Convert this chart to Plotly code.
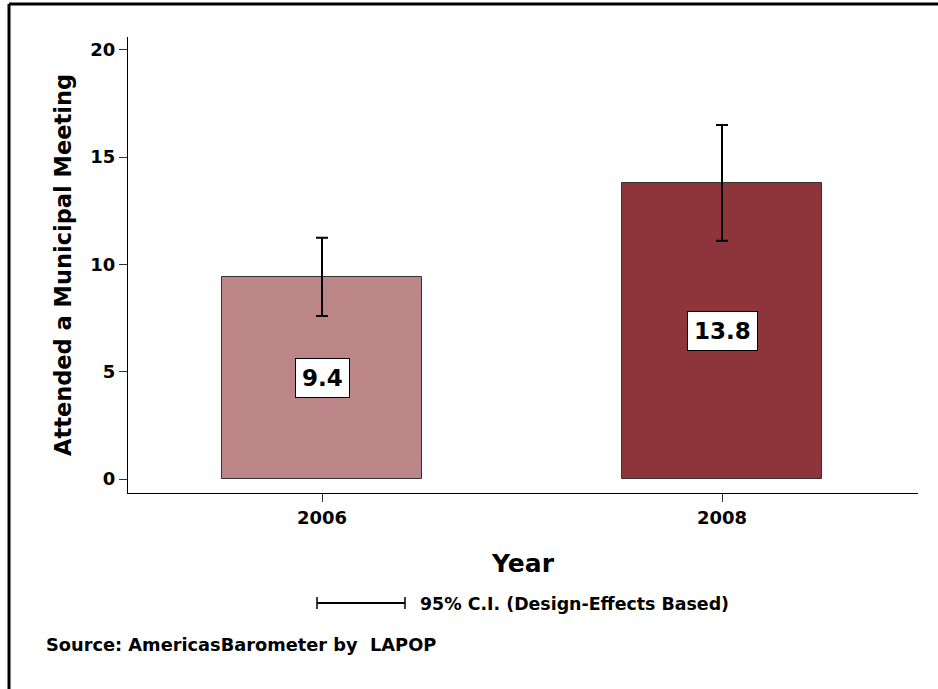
import plotly.graph_objects as go

years = ["2006", "2008"]
values = [9.4, 13.8]
ci_upper = [11.25, 16.5]
ci_lower = [7.6, 11.1]
bar_colors = ["#BC8587", "#8E353C"]

FONT = "DejaVu Sans, sans-serif"

err_plus = [u - v for u, v in zip(ci_upper, values)]
err_minus = [v - l for v, l in zip(values, ci_lower)]

fig = go.Figure()
fig.add_trace(go.Bar(
    x=years,
    y=values,
    width=0.5,
    marker=dict(color=bar_colors, line=dict(color="#333333", width=1)),
    error_y=dict(type="data", array=err_plus, arrayminus=err_minus,
                 color="black", thickness=2, width=6),
    hoverinfo="x+y",
    showlegend=False,
))

# value labels in white boxes, halfway up each bar (x as category index)
for i, v in enumerate(values):
    fig.add_annotation(
        x=i, y=v / 2, text=f"<b>{v}</b>", showarrow=False,
        font=dict(family=FONT, size=23, color="black"),
        bgcolor="white", bordercolor="black", borderwidth=1, borderpad=6,
    )

# CI legend
fig.add_shape(type="line", xref="paper", yref="paper",
              x0=(317 - 128) / 790, x1=(405 - 128) / 790,
              y0=(493 - 603) / 456, y1=(493 - 603) / 456,
              line=dict(color="black", width=2))
for px_ in (317, 405):
    fig.add_shape(type="line", xref="paper", yref="paper",
                  x0=(px_ - 128) / 790, x1=(px_ - 128) / 790,
                  y0=(493 - 597) / 456, y1=(493 - 609) / 456,
                  line=dict(color="black", width=1.5))
fig.add_annotation(
    xref="paper", yref="paper", x=(418 - 128) / 790, y=(493 - 604) / 456,
    xanchor="left", yanchor="middle", showarrow=False,
    text="<b>95% C.I. (Design-Effects Based)</b>",
    font=dict(family=FONT, size=17.4, color="black"),
)
fig.add_annotation(
    xref="paper", yref="paper", x=(44 - 128) / 790, y=(493 - 644) / 456,
    xanchor="left", yanchor="middle", showarrow=False,
    text="<b>Source: AmericasBarometer by  LAPOP</b>",
    font=dict(family=FONT, size=17.8, color="black"),
)

# outer frame (top and left edges)
fig.add_shape(type="line", xref="paper", yref="paper",
              x0=(9 - 128) / 790, x1=(940 - 128) / 790,
              y0=(493 - 4) / 456, y1=(493 - 4) / 456,
              line=dict(color="black", width=3))
fig.add_shape(type="line", xref="paper", yref="paper",
              x0=(9 - 128) / 790, x1=(9 - 128) / 790,
              y0=(493 - 4) / 456, y1=(493 - 692) / 456,
              line=dict(color="black", width=3))

fig.update_layout(
    width=938, height=689,
    margin=dict(l=128, r=20, t=37, b=196),
    paper_bgcolor="white", plot_bgcolor="white",
    font=dict(family=FONT, color="black"),
    bargap=0,
)
fig.update_xaxes(
    type="category", range=[-0.485, 1.49],
    showline=True, linecolor="black", linewidth=1,
    ticks="outside", ticklen=8, tickcolor="#333333",
    tickfont=dict(family=FONT, size=18, weight="bold"),
    title=dict(text="<b>Year</b>", font=dict(family=FONT, size=25), standoff=27),
    showgrid=False, zeroline=False,
)
fig.update_yaxes(
    range=[-0.65, 20.6],
    tickvals=[0, 5, 10, 15, 20],
    showline=True, linecolor="black", linewidth=1,
    ticks="outside", ticklen=8, tickcolor="#333333",
    tickfont=dict(family=FONT, size=18, weight="bold"),
    title=dict(text="<b>Attended a Municipal Meeting</b>",
               font=dict(family=FONT, size=22.5), standoff=12),
    showgrid=False, zeroline=False,
)

fig.write_html("out.html", config={"displayModeBar": False},
               post_script="document.body.style.margin='0';")
